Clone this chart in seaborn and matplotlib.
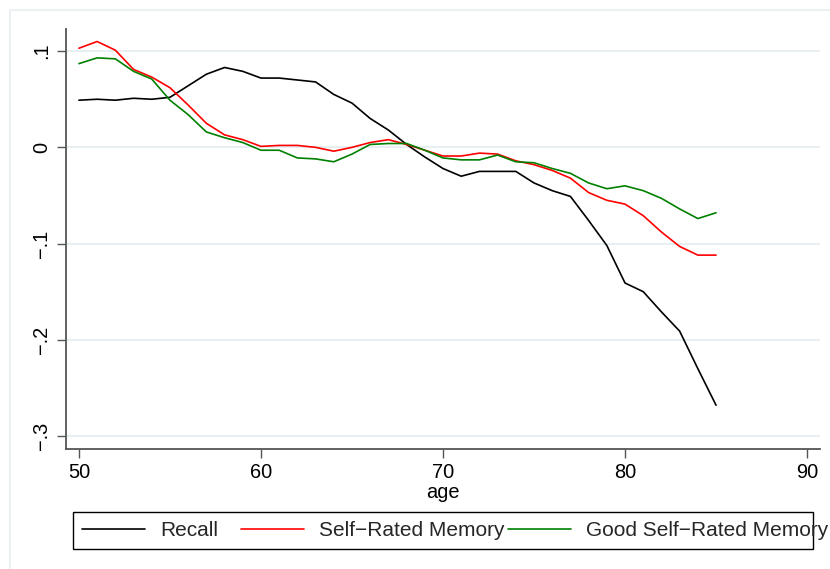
import matplotlib
matplotlib.use("Agg")
import matplotlib.pyplot as plt
import seaborn as sns
import pandas as pd
import numpy as np
from matplotlib.patches import Rectangle
from matplotlib.lines import Line2D

ages = list(range(50, 86))

recall = [0.049, 0.050, 0.049, 0.051, 0.050, 0.052, 0.064, 0.076, 0.083, 0.079,
          0.072, 0.072, 0.070, 0.068, 0.055, 0.046, 0.030, 0.018, 0.003, -0.010,
          -0.022, -0.030, -0.025, -0.025, -0.025, -0.037, -0.045, -0.051, -0.076, -0.102,
          -0.141, -0.150, -0.171, -0.191, -0.230, -0.268]

self_rated = [0.103, 0.110, 0.101, 0.081, 0.073, 0.062, 0.044, 0.025, 0.013, 0.008,
              0.001, 0.002, 0.002, 0.000, -0.004, 0.000, 0.005, 0.008, 0.003, -0.003,
              -0.009, -0.009, -0.006, -0.007, -0.014, -0.018, -0.024, -0.032, -0.047, -0.055,
              -0.059, -0.071, -0.088, -0.103, -0.112, -0.112]

good_self_rated = [0.087, 0.093, 0.092, 0.079, 0.071, 0.049, 0.034, 0.016, 0.010, 0.005,
                   -0.003, -0.003, -0.011, -0.012, -0.015, -0.007, 0.003, 0.004, 0.004, -0.003,
                   -0.011, -0.013, -0.013, -0.008, -0.015, -0.016, -0.022, -0.027, -0.037, -0.043,
                   -0.040, -0.045, -0.053, -0.064, -0.074, -0.068]

series_names = ["Recall", "Self\u2212Rated Memory", "Good Self\u2212Rated Memory"]
series_colors = ["#000000", "#ff0000", "#008000"]

x_ticks = [50, 60, 70, 80, 90]
y_ticks = [0.1, 0.0, -0.1, -0.2, -0.3]
y_tick_labels = [".1", "0", "\u2212.1", "\u2212.2", "\u2212.3"]

df = pd.DataFrame({
    "age": ages * 3,
    "value": recall + self_rated + good_self_rated,
    "series": [series_names[0]] * len(ages) + [series_names[1]] * len(ages) + [series_names[2]] * len(ages),
})

sns.set_theme(style="white")
plt.rcParams['font.family'] = ['Liberation Sans', 'DejaVu Sans']

W, H = 830, 569
fig = plt.figure(figsize=(W / 100, H / 100), dpi=100)
fig.patch.set_facecolor("white")

# faint outer graph frame
fig.patches.append(Rectangle((9.5 / W, -0.1), 1.2, 1.1 - 9.5 / H,
                             transform=fig.transFigure, fill=False,
                             edgecolor="#e9f0f1", linewidth=1.2, zorder=0))

left, right, top, bottom = 66, 820, 29, 449
ax = fig.add_axes([left / W, 1 - bottom / H, (right - left) / W, (bottom - top) / H])
ax.set_facecolor("white")

sns.lineplot(data=df, x="age", y="value", hue="series", hue_order=series_names,
             palette=series_colors, linewidth=1.2, legend=False, ax=ax, zorder=3)

ax.set_xlim(49.29, 90.71)
ax.set_ylim(-0.3135, 0.123)
ax.set_xticks(x_ticks)
ax.set_xticklabels([str(t) for t in x_ticks])
ax.set_yticks(y_ticks)
ax.set_yticklabels(y_tick_labels, rotation=90, va="center")

ax.grid(False)
for yv in y_ticks:
    ax.axhline(yv, color="#e6eef1", linewidth=1.3, zorder=1)

for s in ["top", "right"]:
    ax.spines[s].set_visible(False)
for s in ["left", "bottom"]:
    ax.spines[s].set_color("#555555")
    ax.spines[s].set_linewidth(1.3)

ax.tick_params(axis="both", which="major", direction="out", length=6.5, width=1.0,
               color="#555555", labelsize=14.4, labelcolor="black", left=True, bottom=True)
ax.tick_params(axis="x", pad=3.5)
ax.tick_params(axis="y", pad=4)

ax.set_xlabel("age", fontsize=14.4, color="black", labelpad=0.5)
ax.set_ylabel("")

# legend box
fig.patches.append(Rectangle((73 / W, 1 - 549 / H), (813 - 73) / W, (549 - 512) / H,
                             transform=fig.transFigure, fill=False,
                             edgecolor="black", linewidth=1.0, zorder=5))
leg_x = [82, 241, 508]
for name, col, lx in zip(series_names, series_colors, leg_x):
    h = Line2D([], [], color=col, linewidth=1.2)
    fig.legend([h], [name], loc="center left",
               bbox_to_anchor=(lx / W, 1 - 531 / H), frameon=False,
               fontsize=15, handlelength=3.0, handletextpad=0.75,
               borderpad=0, borderaxespad=0)

fig.savefig("out.png", dpi=100, facecolor="white")
